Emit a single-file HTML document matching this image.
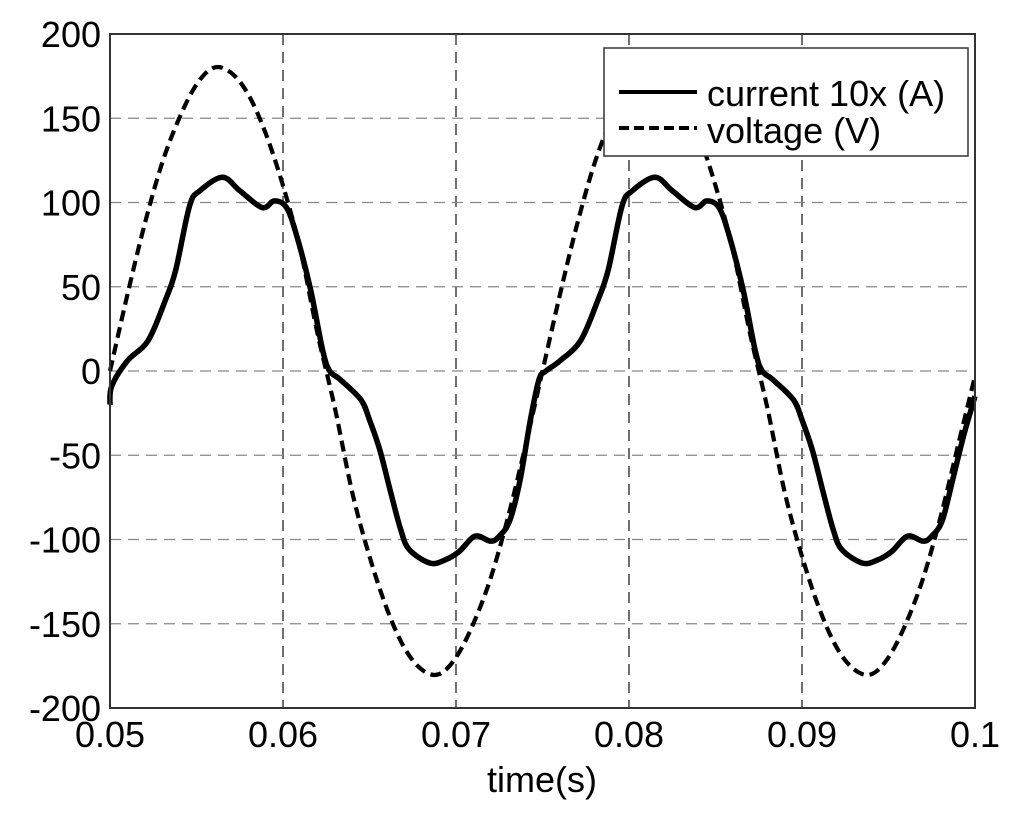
<!DOCTYPE html>
<html><head><meta charset="utf-8"><style>
body{margin:0;background:#fff}
svg text{font-family:"Liberation Sans",sans-serif;font-size:36px;fill:#000}
</style></head><body>
<svg id="chart" width="1024" height="811" viewBox="0 0 1024 811" xmlns="http://www.w3.org/2000/svg">
<rect width="1024" height="811" fill="#fff"/>
<g id="grid"></g>
<g id="series"></g>
<rect x="110" y="34" width="865" height="674" fill="none" stroke="#333" stroke-width="2"/>
<g id="ticks"></g>
<text x="542" y="792" text-anchor="middle">time(s)</text>
<g>
<rect x="604" y="48" width="364" height="108" fill="#fff" stroke="#333" stroke-width="1.5"/>
<line x1="619" y1="92" x2="697" y2="92" stroke="#000" stroke-width="4"/>
<text x="707" y="106">current 10x (A)</text>
<line x1="619" y1="128" x2="697" y2="128" stroke="#000" stroke-width="4" stroke-dasharray="10,5"/>
<text x="707" y="143">voltage (V)</text>
</g>
</svg>
<script>
const xTicks=[0.05,0.06,0.07,0.08,0.09,0.1];
const xTickLabels=["0.05","0.06","0.07","0.08","0.09","0.1"];
const yTicks=[200,150,100,50,0,-50,-100,-150,-200];
const yTickLabels=["200","150","100","50","0","-50","-100","-150","-200"];
const voltageT=[0.05,0.051,0.052,0.053,0.054,0.055,0.056,0.057,0.058,0.059,0.06,0.061,0.062,0.063,0.064,0.065,0.066,0.067,0.068,0.069,0.07,0.071,0.072,0.073,0.074,0.075,0.076,0.077,0.078,0.079,0.08,0.081,0.082,0.083,0.084,0.085,0.086,0.087,0.088,0.089,0.09,0.091,0.092,0.093,0.094,0.095,0.096,0.097,0.098,0.099,0.1];
const voltageV=[0,45,87,123,150,170,180,177,164,141,110,72,22,-22,-72,-110,-141,-164,-177,-180,-170,-150,-123,-87,-45,0,45,87,123,150,170,180,177,164,141,110,72,22,-22,-72,-110,-141,-164,-177,-180,-170,-150,-123,-87,-45,-3];
const currentT=[0.05,0.0501,0.051,0.0522,0.0532,0.0538,0.0546,0.0552,0.0565,0.0575,0.0588,0.0595,0.0602,0.0608,0.0616,0.0623,0.0627,0.0633,0.0645,0.065,0.0656,0.0662,0.0668,0.0673,0.0685,0.0694,0.0702,0.0711,0.072,0.0725,0.0731,0.0737,0.0743,0.0748,0.0752,0.076,0.0772,0.0782,0.0788,0.0796,0.0802,0.0815,0.0825,0.0838,0.0845,0.0852,0.0858,0.0866,0.0873,0.0877,0.0883,0.0895,0.09,0.0906,0.0912,0.0918,0.0923,0.0935,0.0944,0.0952,0.0961,0.097,0.0975,0.0981,0.0987,0.0993,0.0998,0.1];
const currentV=[-20,-9,6,18,42,60,98,107,115,107,97,101,97,80,48,12,0,-5,-17,-29,-47,-71,-94,-106,-114,-112,-107,-98,-101,-98,-89,-65,-29,-5,0,6,18,42,60,98,107,115,107,97,101,97,80,48,12,0,-5,-17,-29,-47,-71,-94,-106,-114,-112,-107,-98,-101,-98,-89,-65,-40,-22,-15];
const X0=110,X1=975,Y0=708,Y1=34;
const xs=t=>X0+(t-0.05)/0.05*(X1-X0);
const ys=v=>Y0-(v+200)/400*(Y0-Y1);
const NS="http://www.w3.org/2000/svg";
const grid=document.getElementById('grid'),ticks=document.getElementById('ticks'),series=document.getElementById('series');
xTicks.forEach((t,i)=>{
  if(i>0&&i<xTicks.length-1){
    const l=document.createElementNS(NS,'line');
    l.setAttribute('x1',xs(t));l.setAttribute('x2',xs(t));l.setAttribute('y1',Y1);l.setAttribute('y2',Y0);
    l.setAttribute('stroke','#222');l.setAttribute('stroke-width','1.3');l.setAttribute('stroke-dasharray','11,7');
    
    
    grid.appendChild(l);
  }
  const tx=document.createElementNS(NS,'text');
  tx.setAttribute('x',xs(t));tx.setAttribute('y',747);tx.setAttribute('text-anchor','middle');
  tx.textContent=xTickLabels[i];
  
  
  ticks.appendChild(tx);
});
yTicks.forEach((v,i)=>{
  if(i>0&&i<yTicks.length-1){
    const l=document.createElementNS(NS,'line');
    l.setAttribute('x1',X0);l.setAttribute('x2',X1);l.setAttribute('y1',ys(v));l.setAttribute('y2',ys(v));
    l.setAttribute('stroke','#888');l.setAttribute('stroke-width','1.3');l.setAttribute('stroke-dasharray','11,7');
    
    
    grid.appendChild(l);
  }
  const tx=document.createElementNS(NS,'text');
  tx.setAttribute('x',101);tx.setAttribute('y',ys(v)+13);tx.setAttribute('text-anchor','end');
  tx.textContent=yTickLabels[i];
  
  
  ticks.appendChild(tx);
});
function smoothPath(T,V){
  const P=T.map((t,i)=>[xs(t),ys(V[i])]);
  let d='M'+P[0][0]+','+P[0][1];
  for(let i=0;i<P.length-1;i++){
    const p0=P[Math.max(0,i-1)],p1=P[i],p2=P[i+1],p3=P[Math.min(P.length-1,i+2)];
    const c1=[p1[0]+(p2[0]-p0[0])/6,p1[1]+(p2[1]-p0[1])/6];
    const c2=[p2[0]-(p3[0]-p1[0])/6,p2[1]-(p3[1]-p1[1])/6];
    d+=' C'+c1[0]+','+c1[1]+' '+c2[0]+','+c2[1]+' '+p2[0]+','+p2[1];
  }
  return d;
}
function path(T,V,dash,name){
  const p=document.createElementNS(NS,'path');
  p.setAttribute('d',smoothPath(T,V));
  p.setAttribute('fill','none');p.setAttribute('stroke','#000');p.setAttribute('stroke-width',dash?'4.2':'5.5');
  p.setAttribute('stroke-linejoin','round');
  if(dash)p.setAttribute('stroke-dasharray','11,6');
  
  
  series.appendChild(p);
}
path(voltageT,voltageV,true,'voltage-line');
path(currentT,currentV,false,'current-line');
</script>
</body></html>
